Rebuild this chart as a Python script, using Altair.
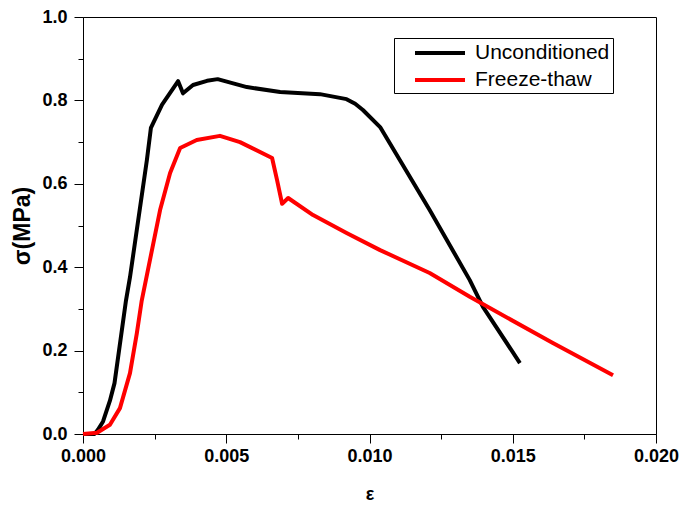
import altair as alt
import pandas as pd

series_names = ["Unconditioned", "Freeze-thaw"]
series_colors = ["#000000", "#ff0000"]

uncond_eps = [0, 0.0004, 0.00052, 0.0007, 0.00094, 0.0011, 0.0015, 0.00164, 0.00223,
              0.00237, 0.00276, 0.00332, 0.00349, 0.00384, 0.00433, 0.0047, 0.00572,
              0.00688, 0.00827, 0.0092, 0.0095, 0.00977, 0.01037, 0.0121, 0.0135, 0.01396, 0.01525]
uncond_sig = [0, 0, 0.01, 0.03, 0.08, 0.122, 0.32, 0.376, 0.657,
              0.734, 0.79, 0.846, 0.817, 0.837, 0.847, 0.851, 0.832,
              0.82, 0.815, 0.803, 0.792, 0.777, 0.736, 0.537, 0.369, 0.305, 0.17]

ft_eps = [0, 0.00049, 0.00094, 0.00129, 0.00164, 0.00188, 0.00205, 0.00269, 0.00304,
          0.00339, 0.00397, 0.00478, 0.00548, 0.0066, 0.00677, 0.00695, 0.00716,
          0.00803, 0.0092, 0.01037, 0.0121, 0.0135, 0.0164, 0.0185]
ft_sig = [0, 0.003, 0.022, 0.062, 0.146, 0.242, 0.32, 0.537, 0.626,
          0.686, 0.705, 0.715, 0.70, 0.662, 0.61, 0.552, 0.566,
          0.525, 0.482, 0.441, 0.386, 0.329, 0.218, 0.141]

x_ticks = [i * 0.0025 for i in range(9)]
y_ticks = [i * 0.1 for i in range(11)]

df = pd.concat([
    pd.DataFrame({"eps": uncond_eps, "sigma": uncond_sig, "series": series_names[0]}),
    pd.DataFrame({"eps": ft_eps, "sigma": ft_sig, "series": series_names[1]}),
])

FONT = "Liberation Sans"

chart = alt.Chart(df).mark_line(strokeWidth=4, strokeJoin="round", strokeCap="butt").encode(
    x=alt.X("eps:Q", title="ε",
            scale=alt.Scale(domain=[0, 0.02], nice=False, zero=False),
            axis=alt.Axis(values=x_ticks,
                          labelExpr="round(datum.value*400) % 2 == 0 ? format(datum.value, '.3f') : ''",
                          tickSize={"condition": {"test": "round(datum.value*400) % 2 == 0", "value": 9}, "value": 5},
                          labelPadding=4, titlePadding=20, titleFontSize=18, labelFlush=False)),
    y=alt.Y("sigma:Q", title="σ(MPa)",
            scale=alt.Scale(domain=[0, 1], nice=False),
            axis=alt.Axis(values=y_ticks,
                          labelExpr="round(datum.value*10) % 2 == 0 ? format(datum.value, '.1f') : ''",
                          tickSize={"condition": {"test": "round(datum.value*10) % 2 == 0", "value": 9}, "value": 5},
                          labelPadding=7, titlePadding=7, titleFontSize=23, labelFlush=False)),
    color=alt.Color("series:N",
                    scale=alt.Scale(domain=series_names, range=series_colors),
                    legend=alt.Legend(title=None, orient="none", legendX=311, legendY=21,
                                      symbolType="M-2.5,0H2.5", symbolSize=400, symbolStrokeWidth=4,
                                      labelFontSize=21, labelFont=FONT, labelColor="black",
                                      labelExpr="datum.label + '\u00a0\u00a0\u00a0\u00a0'",
                                      labelOffset=23, padding=3, rowPadding=5, symbolOffset=31,
                                      strokeColor="black", fillColor="white")),
).properties(
    width=573, height=417,
    autosize=alt.AutoSizeParams(type="none"),
    padding={"left": 83, "top": 17, "right": 24, "bottom": 74},
).configure_view(
    stroke="black", strokeWidth=1
).configure_axis(
    grid=False, domainColor="black", tickColor="black", tickWidth=1, domainWidth=1,
    labelFont=FONT, labelFontSize=18, labelFontWeight="bold", labelColor="black",
    titleFont=FONT, titleFontWeight="bold", titleColor="black",
)

chart.save("out.html", embed_options={"renderer": "svg", "actions": False})
